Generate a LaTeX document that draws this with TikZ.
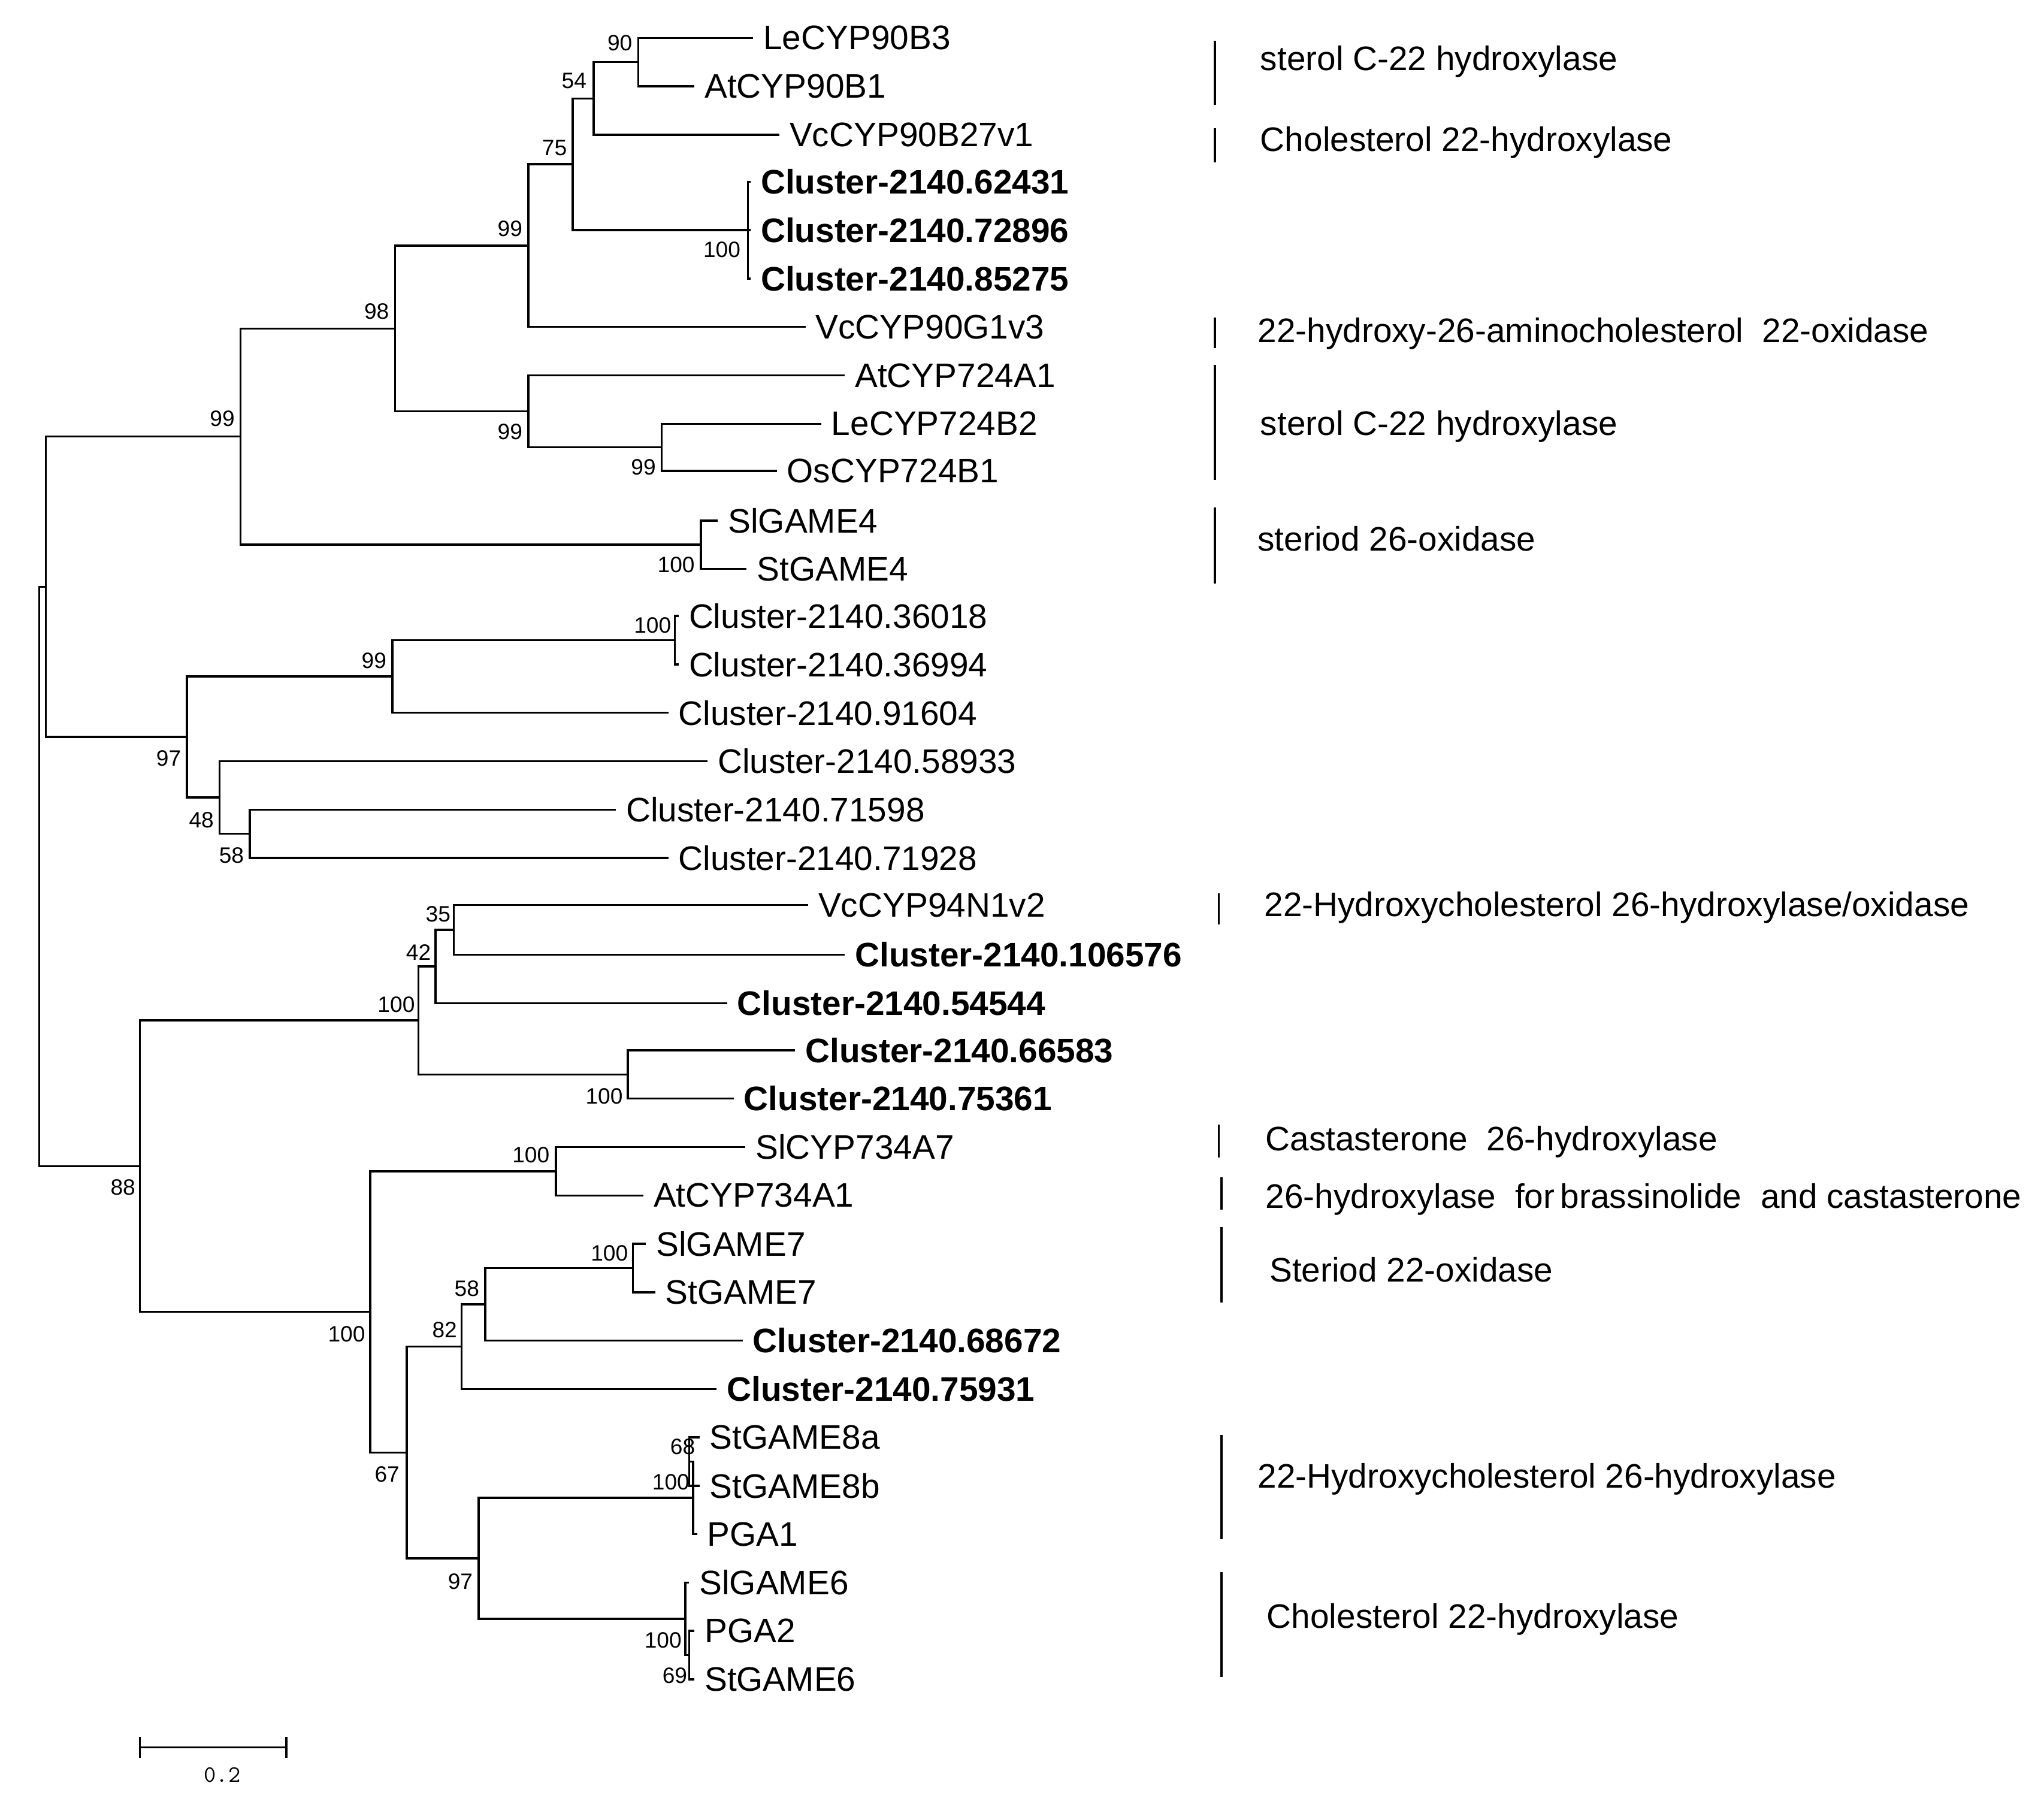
\documentclass[tikz,border=0pt]{standalone}
\usepackage{fontspec}
\setmainfont{Liberation Sans}
\begin{document}
\begin{tikzpicture}[x=1pt,y=-1pt,
 lf/.style={anchor=west,inner xsep=7pt,inner ysep=0pt,font=\fontsize{26}{28}\selectfont},
 blf/.style={lf,font=\fontsize{26}{28}\selectfont\bfseries},
 bs/.style={font=\fontsize{17}{19}\selectfont,inner sep=0pt},
 an/.style={anchor=west,inner sep=0pt,font=\fontsize{26}{28}\selectfont},
 br/.style={line width=1.6pt},
 line width=1.6pt]
\useasboundingbox (0,0) rectangle (1563,1372);
% leaves
\node[lf] (l1) at (576,29) {LeCYP90B3};
\node[lf] (l2) at (531,66) {AtCYP90B1};
\node[lf] (l3) at (596,103) {VcCYP90B27v1};
\node[blf] (l4) at (574,139) {Cluster-2140.62431};
\node[blf] (l5) at (574,176) {Cluster-2140.72896};
\node[blf] (l6) at (574,213) {Cluster-2140.85275};
\node[lf] (l7) at (616,250) {VcCYP90G1v3};
\node[lf] (l8) at (646,287) {AtCYP724A1};
\node[lf] (l9) at (628,324) {LeCYP724B2};
\node[lf] (l10) at (594,360) {OsCYP724B1};
\node[lf] (l11) at (549,398) {SlGAME4};
\node[lf] (l12) at (571,435) {StGAME4};
\node[lf] (l13) at (519,471) {Cluster-2140.36018};
\node[lf] (l14) at (519,508) {Cluster-2140.36994};
\node[lf] (l15) at (511,545) {Cluster-2140.91604};
\node[lf] (l16) at (541,582) {Cluster-2140.58933};
\node[lf] (l17) at (471,619) {Cluster-2140.71598};
\node[lf] (l18) at (511,656) {Cluster-2140.71928};
\node[lf] (l19) at (618,692) {VcCYP94N1v2};
\node[blf] (l20) at (646,730) {Cluster-2140.106576};
\node[blf] (l21) at (556,767) {Cluster-2140.54544};
\node[blf] (l22) at (608,803) {Cluster-2140.66583};
\node[blf] (l23) at (561,840) {Cluster-2140.75361};
\node[lf] (l24) at (570,877) {SlCYP734A7};
\node[lf] (l25) at (492,914) {AtCYP734A1};
\node[lf] (l26) at (494,951) {SlGAME7};
\node[lf] (l27) at (501,988) {StGAME7};
\node[blf] (l28) at (568,1025) {Cluster-2140.68672};
\node[blf] (l29) at (548,1062) {Cluster-2140.75931};
\node[lf] (l30) at (535,1099) {StGAME8a};
\node[lf] (l31) at (535,1136) {StGAME8b};
\node[lf] (l32) at (533,1173) {PGA1};
\node[lf] (l33) at (527,1210) {SlGAME6};
\node[lf] (l34) at (531,1247) {PGA2};
\node[lf] (l35) at (531,1284) {StGAME6};
% internal
\coordinate (n1) at (488,47.5);
\coordinate (n2) at (454,75.25);
\coordinate (n3) at (572,176);
\coordinate (n4) at (438,125.6);
\coordinate (n5) at (404,187.8);
\coordinate (n6) at (506,342);
\coordinate (n7) at (404,314.5);
\coordinate (n8) at (302,251.2);
\coordinate (n9) at (536,416.5);
\coordinate (n10) at (184,333.8);
\coordinate (n11) at (516,489.5);
\coordinate (n12) at (300,517.2);
\coordinate (n13) at (191,637.5);
\coordinate (n14) at (168,609.8);
\coordinate (n15) at (143,563.5);
\coordinate (n16) at (35,448.6);
\coordinate (n17) at (347,711);
\coordinate (n18) at (333,739);
\coordinate (n19) at (480,821.5);
\coordinate (n20) at (320,780.2);
\coordinate (n21) at (425,895.5);
\coordinate (n22) at (484,969.5);
\coordinate (n23) at (371,997.2);
\coordinate (n24) at (353,1029.6);
\coordinate (n25a) at (527,1117.5);
\coordinate (n25) at (530,1145.2);
\coordinate (n26a) at (527,1265.5);
\coordinate (n26) at (524,1237.8);
\coordinate (n27) at (366,1191.5);
\coordinate (n28) at (311,1110.6);
\coordinate (n29) at (283,1003);
\coordinate (n30) at (107,891.6);
\coordinate (root) at (30,670);
\draw (n1)|-(l1.west) (n1)|-(l2.west);
\draw (n2)|-(n1) (n2)|-(l3.west);
\draw (n3)|-(l4.west) (n3)|-(l5.west) (n3)|-(l6.west);
\draw (n4)|-(n2) (n4)|-(n3);
\draw (n5)|-(n4) (n5)|-(l7.west);
\draw (n6)|-(l9.west) (n6)|-(l10.west);
\draw (n7)|-(l8.west) (n7)|-(n6);
\draw (n8)|-(n5) (n8)|-(n7);
\draw (n9)|-(l11.west) (n9)|-(l12.west);
\draw (n10)|-(n8) (n10)|-(n9);
\draw (n11)|-(l13.west) (n11)|-(l14.west);
\draw (n12)|-(n11) (n12)|-(l15.west);
\draw (n13)|-(l17.west) (n13)|-(l18.west);
\draw (n14)|-(l16.west) (n14)|-(n13);
\draw (n15)|-(n12) (n15)|-(n14);
\draw (n16)|-(n10) (n16)|-(n15);
\draw (n17)|-(l19.west) (n17)|-(l20.west);
\draw (n18)|-(n17) (n18)|-(l21.west);
\draw (n19)|-(l22.west) (n19)|-(l23.west);
\draw (n20)|-(n18) (n20)|-(n19);
\draw (n21)|-(l24.west) (n21)|-(l25.west);
\draw (n22)|-(l26.west) (n22)|-(l27.west);
\draw (n23)|-(n22) (n23)|-(l28.west);
\draw (n24)|-(n23) (n24)|-(l29.west);
\draw (n25a)|-(l30.west) (n25a)|-(l31.west);
\draw (n25)|-(n25a) (n25)|-(l32.west);
\draw (n26a)|-(l34.west) (n26a)|-(l35.west);
\draw (n26)|-(l33.west) (n26)|-(n26a);
\draw (n27)|-(n25) (n27)|-(n26);
\draw (n28)|-(n24) (n28)|-(n27);
\draw (n29)|-(n21) (n29)|-(n28);
\draw (n30)|-(n20) (n30)|-(n29);
\draw (root)|-(n16) (root)|-(n30);
% bootstrap
\foreach \t/\x/\y in {90/474/33,54/439/62,100/552/191,75/424/113,99/390/175,99/492/357,99/390/330,98/288/238,100/517/432,99/170/320,100/499/478,99/286/505,58/177/654,48/154/627,97/129/580,35/335/699,42/320/728,100/462/838,100/303/768,100/406/883,100/466/958,58/357/985,82/340/1017,68/522/1106,100/513/1133,100/507/1254,69/516/1281,97/352/1209,67/296/1127,100/265/1020,88/94/908}
 \node[bs] at (\x,\y) {\t};
% annotations
\draw[br] (929,31)--(929,80); \node[an] at (963,47) {sterol C-22 hydroxylase};
\draw[br] (929,98)--(929,124); \node[an] at (963,109) {Cholesterol 22-hydroxylase};
\draw[br] (929,243)--(929,266); \node[an] at (961,255) {22-hydroxy-26-aminocholesterol\ \ 22-oxidase};
\draw[br] (929,279)--(929,367); \node[an] at (963,326) {sterol C-22 hydroxylase};
\draw[br] (929,388)--(929,446); \node[an] at (961,412) {steriod 26-oxidase};
\draw[br] (932,683)--(932,707); \node[an] at (966,694) {22-Hydroxycholesterol 26-hydroxylase/oxidase};
\draw[br] (932,860)--(932,885); \node[an] at (967,873) {Castasterone\ \ 26-hydroxylase};
\draw[br] (934,900)--(934,925); \node[an] at (967,917) {26-hydroxylase\ \ for\,brassinolide\ \ and castasterone};
\draw[br] (934,938)--(934,996); \node[an] at (970,971) {Steriod 22-oxidase};
\draw[br] (934,1097)--(934,1177); \node[an] at (961,1131) {22-Hydroxycholesterol 26-hydroxylase};
\draw[br] (934,1202)--(934,1282); \node[an] at (968,1238) {Cholesterol 22-hydroxylase};
% scale
\coordinate (s1) at (107,1336); \coordinate (s2) at (219,1336);
\draw (s1)--(s2) (107,1328)--(107,1344) (219,1328)--(219,1344);
\node[font=\fontsize{18}{20}\ttfamily] at (170,1357) {0.2};
\end{tikzpicture}
\end{document}
